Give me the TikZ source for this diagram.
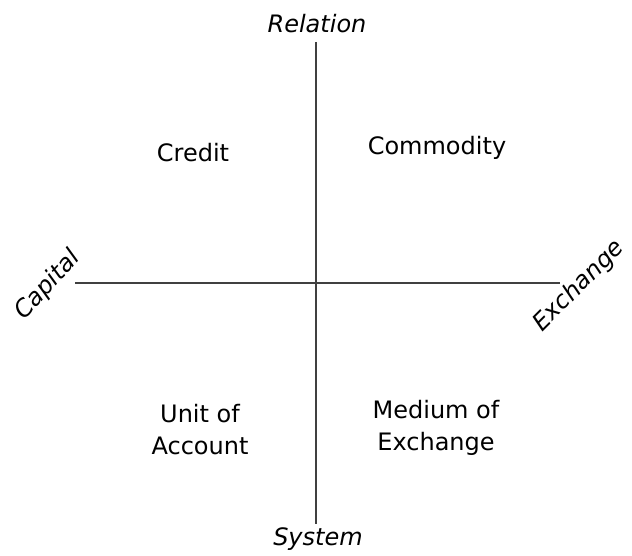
\documentclass[tikz,border=0pt]{standalone}
\usepackage{fontspec}
\setmainfont{DejaVu Sans}
\begin{document}
\begin{tikzpicture}[x=1pt,y=-1pt,
axis/.style={draw=black!75,line width=1.5pt},
pole/.style={font=\fontsize{24}{30}\selectfont\itshape,inner sep=0pt},
field/.style={font=\fontsize{24}{32}\selectfont,align=center,inner sep=0pt}]
\useasboundingbox (0,0) rectangle (632,556);
\coordinate (top) at (316,42);
\coordinate (bottom) at (316,524);
\coordinate (left) at (75,283);
\coordinate (right) at (560,283);
\draw[axis] (top)--(bottom);
\draw[axis] (left)--(right);
\node[pole,anchor=base] (relation) at (317,33) {Relation};
\node[pole,anchor=base] (system) at (318,545) {System};
\node[pole,rotate=47] (capital) at (48,285) {Capital};
\node[pole,rotate=45] (exchange) at (579,286) {Exchange};
\node[field,anchor=base] (credit) at (193,162) {Credit};
\node[field,anchor=base] (commodity) at (437,155) {Commodity};
\node[field,anchor=base] (unit) at (200,454) {Unit of\\Account};
\node[field,anchor=base] (medium) at (436,450) {Medium of\\Exchange};
\end{tikzpicture}
\end{document}
